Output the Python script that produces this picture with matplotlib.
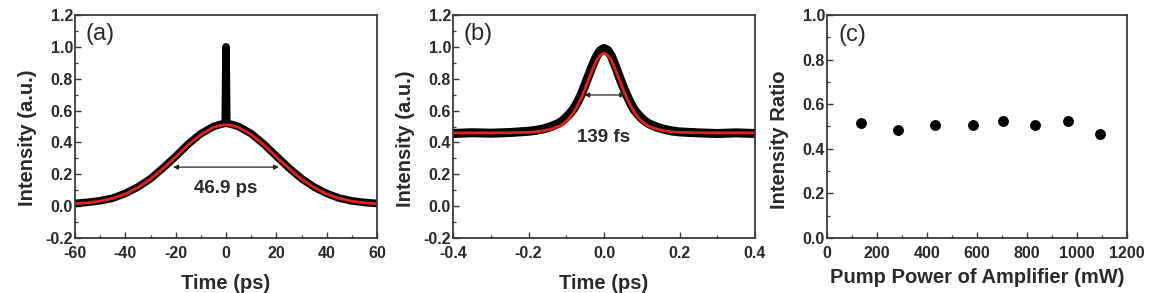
import matplotlib
matplotlib.use("Agg")
import matplotlib.pyplot as plt
from matplotlib.ticker import MultipleLocator, FormatStrFormatter

plt.rcParams['font.family'] = ['Liberation Sans', 'DejaVu Sans']
plt.rcParams['axes.unicode_minus'] = False

# ---- Panel (a) data: autocorrelation, ps ----
a_time = [-60, -55, -50, -45, -40, -35, -30, -25, -20, -15, -10, -5, -2.5, 0,
          2.5, 5, 10, 15, 20, 25, 30, 35, 40, 45, 50, 55, 60]
a_fit = [0.015, 0.021, 0.031, 0.049, 0.076, 0.117, 0.170, 0.237, 0.310, 0.386,
         0.450, 0.494, 0.506, 0.510, 0.506, 0.494, 0.450, 0.386, 0.310, 0.237,
         0.170, 0.117, 0.076, 0.049, 0.031, 0.021, 0.015]
a_meas_time = [-60, -55, -50, -45, -40, -35, -30, -25, -20, -15, -10, -5, -2.5,
               -0.3, 0, 0.3, 2.5, 5, 10, 15, 20, 25, 30, 35, 40, 45, 50, 55, 60]
a_meas = [0.017, 0.024, 0.034, 0.050, 0.080, 0.120, 0.172, 0.240, 0.312, 0.390,
          0.455, 0.500, 0.512, 0.520, 1.000, 0.520, 0.512, 0.500, 0.455, 0.390,
          0.314, 0.240, 0.173, 0.120, 0.080, 0.050, 0.033, 0.023, 0.017]

# ---- Panel (b) data: zoomed autocorrelation ----
b_time = [-0.40, -0.35, -0.30, -0.25, -0.20, -0.18, -0.16, -0.14, -0.12, -0.11,
          -0.10, -0.09, -0.08, -0.07, -0.06, -0.05, -0.04, -0.03, -0.02, -0.01,
          0.00, 0.01, 0.02, 0.03, 0.04, 0.05, 0.06, 0.07, 0.08, 0.09, 0.10,
          0.11, 0.12, 0.14, 0.16, 0.18, 0.20, 0.25, 0.30, 0.35, 0.40]
b_fit = [0.460, 0.460, 0.460, 0.461, 0.463, 0.467, 0.473, 0.484, 0.500, 0.514,
         0.534, 0.558, 0.590, 0.631, 0.680, 0.737, 0.800, 0.859, 0.912, 0.947,
         0.960, 0.947, 0.912, 0.859, 0.800, 0.737, 0.680, 0.631, 0.590, 0.558,
         0.534, 0.514, 0.500, 0.484, 0.473, 0.467, 0.463, 0.461, 0.460, 0.460,
         0.460]
b_meas = [0.456, 0.461, 0.458, 0.462, 0.470, 0.476, 0.485, 0.500, 0.520, 0.536,
          0.558, 0.582, 0.612, 0.653, 0.703, 0.763, 0.824, 0.886, 0.940, 0.976,
          0.990, 0.978, 0.940, 0.880, 0.816, 0.754, 0.698, 0.648, 0.606, 0.576,
          0.551, 0.531, 0.516, 0.496, 0.482, 0.472, 0.466, 0.460, 0.456, 0.460,
          0.456]

# ---- Panel (c) data ----
pump_power = [135, 283, 432, 583, 703, 833, 963, 1093]
intensity_ratio = [0.514, 0.484, 0.505, 0.507, 0.526, 0.505, 0.526, 0.466]

W, H = 1149, 293
fig = plt.figure(figsize=(W / 100, H / 100), dpi=100)

def px_axes(x0, x1, y0, y1):
    return fig.add_axes([x0 / W, (H - y1) / H, (x1 - x0) / W, (y1 - y0) / H])

ax_a = px_axes(75, 377, 15, 238)
ax_b = px_axes(453, 755, 15, 238)
ax_c = px_axes(827, 1127, 15, 238)

spine_col = '#3a3a3a'
text_col = '#2a2a2a'
tick_fs = 11.5
lab_fs = 14.5
ann_fs = 13.5
tag_fs = 17

def style(ax, xmaj, xmin, ymaj, ymin, xfmt='%g'):
    ax.xaxis.set_major_locator(MultipleLocator(xmaj))
    ax.xaxis.set_minor_locator(MultipleLocator(xmin))
    ax.yaxis.set_major_locator(MultipleLocator(ymaj))
    ax.yaxis.set_minor_locator(MultipleLocator(ymin))
    ax.xaxis.set_major_formatter(FormatStrFormatter(xfmt))
    ax.yaxis.set_major_formatter(FormatStrFormatter('%.1f'))
    ax.tick_params(which='both', direction='in', top=False, right=False,
                   colors=spine_col, labelcolor=text_col, labelsize=tick_fs)
    ax.tick_params(axis='x', which='both', pad=5.5)
    ax.tick_params(axis='y', which='both', pad=1.5)
    ax.tick_params(which='major', length=4, width=1.0)
    ax.tick_params(which='minor', length=2.5, width=0.9)
    for s in ax.spines.values():
        s.set_color(spine_col)
        s.set_linewidth(1.3)
    for lbl in ax.get_xticklabels() + ax.get_yticklabels():
        lbl.set_fontweight('bold')

# Panel (a)
ax_a.plot(a_meas_time, a_meas, color='black', lw=5.5, solid_capstyle='round',
          solid_joinstyle='round')
ax_a.plot(a_time, a_fit, color='#e8201a', lw=2.0)
ax_a.set_xlim(-60, 60)
ax_a.set_ylim(-0.2, 1.2)
style(ax_a, 20, 10, 0.2, 0.1, '%d')
ax_a.annotate('', xy=(-21, 0.245), xytext=(21, 0.245),
              arrowprops=dict(arrowstyle='<|-|>', color='#222222', lw=0.9,
                              mutation_scale=7, shrinkA=0, shrinkB=0))
ax_a.text(0, 0.11, '46.9 ps', ha='center', va='center', fontsize=ann_fs,
          fontweight='bold', color=text_col)
ax_a.text(0.035, 0.915, '(a)', transform=ax_a.transAxes, ha='left', va='center',
          fontsize=tag_fs, color=text_col)
ax_a.set_xlabel('Time (ps)', fontsize=lab_fs, fontweight='bold', color=text_col)
ax_a.set_ylabel('Intensity (a.u.)', fontsize=lab_fs, fontweight='bold', color=text_col)
ax_a.xaxis.set_label_coords(0.5, -0.162)
ax_a.yaxis.set_label_coords(-0.126, 0.45)

# Panel (b)
ax_b.plot(b_time, b_meas, color='black', lw=6.5, solid_capstyle='round',
          solid_joinstyle='round')
ax_b.plot(b_time, b_fit, color='#e8201a', lw=2.0)
ax_b.set_xlim(-0.4, 0.4)
ax_b.set_ylim(-0.2, 1.2)
style(ax_b, 0.2, 0.1, 0.2, 0.1, '%.1f')
ax_b.annotate('', xy=(-0.052, 0.698), xytext=(0.056, 0.698),
              arrowprops=dict(arrowstyle='<|-|>', color='#222222', lw=0.9,
                              mutation_scale=7, shrinkA=0, shrinkB=0))
ax_b.text(0.0, 0.43, '139 fs', ha='center', va='center', fontsize=ann_fs,
          fontweight='bold', color=text_col)
ax_b.text(0.035, 0.915, '(b)', transform=ax_b.transAxes, ha='left', va='center',
          fontsize=tag_fs, color=text_col)
ax_b.set_xlabel('Time (ps)', fontsize=lab_fs, fontweight='bold', color=text_col)
ax_b.set_ylabel('Intensity (a.u.)', fontsize=lab_fs, fontweight='bold', color=text_col)
ax_b.xaxis.set_label_coords(0.5, -0.162)
ax_b.yaxis.set_label_coords(-0.126, 0.445)

# Panel (c)
ax_c.plot(pump_power, intensity_ratio, 'o', color='black', ms=6.8, mec='black')
ax_c.set_xlim(0, 1200)
ax_c.set_ylim(0, 1.0)
style(ax_c, 200, 100, 0.2, 0.1, '%d')
ax_c.text(0.04, 0.91, '(c)', transform=ax_c.transAxes, ha='left', va='center',
          fontsize=tag_fs, color=text_col)
ax_c.set_xlabel('Pump Power of Amplifier (mW)', fontsize=lab_fs, fontweight='bold',
                color=text_col)
ax_c.set_ylabel('Intensity Ratio', fontsize=lab_fs, fontweight='bold', color=text_col)
ax_c.xaxis.set_label_coords(0.5, -0.135)
ax_c.yaxis.set_label_coords(-0.127, 0.44)

fig.savefig('out.png', dpi=100)
